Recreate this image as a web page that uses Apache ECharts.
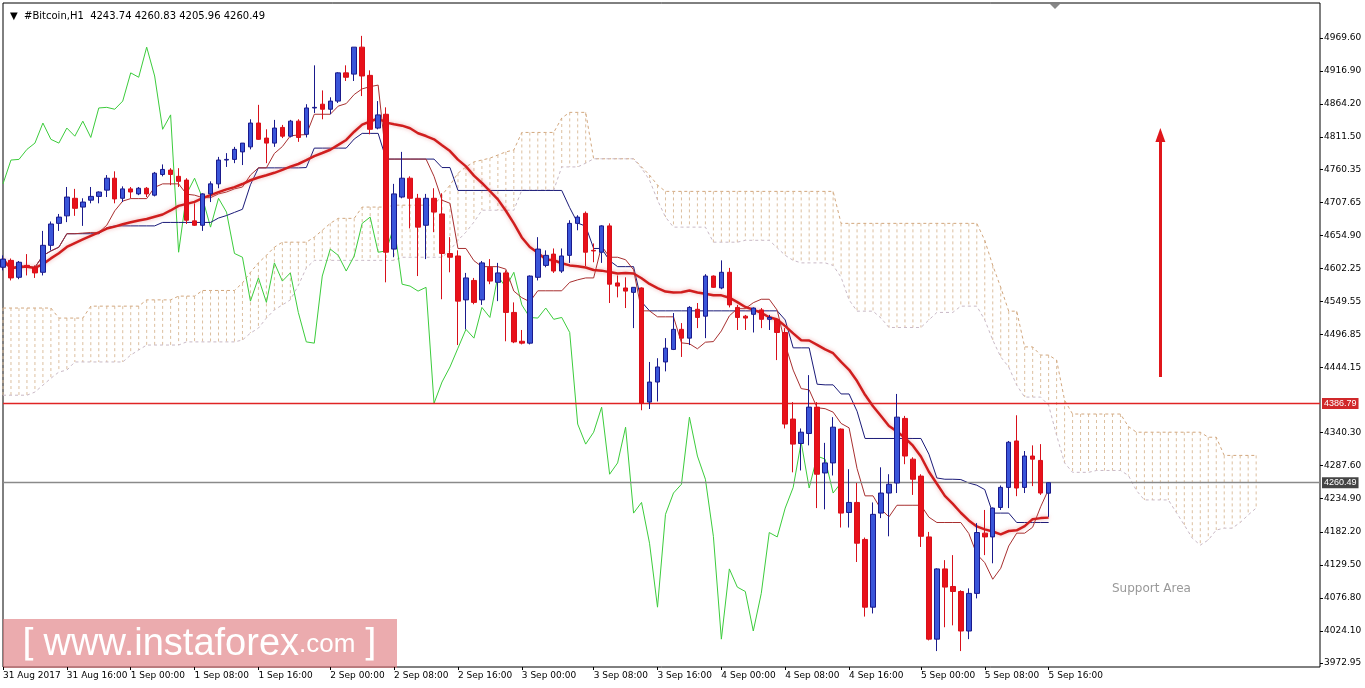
<!DOCTYPE html>
<html><head><meta charset="utf-8">
<script src="https://cdn.jsdelivr.net/npm/echarts@6/dist/echarts.min.js"></script>
<style>html,body{margin:0;padding:0;background:#fff}#c{width:1365px;height:688px}</style>
</head><body><div id="c"></div>
<script>
const opens=[4604,4615,4588,4607,4603,4596,4639,4674,4686,4714,4700,4711,4717,4727,4746,4714,4729,4721,4730,4719,4752,4759,4749,4743,4678,4671,4721,4737,4775,4776,4788,4796,4834,4810,4802,4827,4813,4837,4816,4858,4864,4856,4869,4914,4912,4955,4910,4826,4848,4633,4716,4746,4714,4671,4714,4689,4626,4622,4552,4583,4552,4604,4580,4595,4532,4486,4483,4588,4607,4625,4598,4623,4674,4690,4631,4628,4670,4579,4571,4564,4571,4389,4421,4453,4473,4505,4491,4537,4526,4590,4571,4596,4540,4526,4529,4536,4521,4520,4500,4362,4323,4339,4381,4276,4292,4346,4213,4229,4170,4062,4212,4244,4260,4363,4298,4271,4174,4011,4123,4095,4087,4024,4084,4180,4174,4221,4253,4327,4253,4303,4296,4243.74];
const closes=[4617,4587,4612,4604,4595,4639,4673,4684,4716,4698,4708,4717,4724,4746,4713,4729,4724,4730,4721,4754,4760,4752,4741,4679,4671,4721,4737,4775,4776,4792,4802,4834,4808,4802,4826,4813,4837,4811,4858,4859,4856,4869,4914,4907,4955,4909,4824,4847,4628,4721,4746,4714,4668,4714,4692,4626,4620,4550,4587,4548,4611,4582,4595,4532,4485,4483,4590,4633,4623,4598,4622,4674,4684,4628,4630,4670,4577,4574,4566,4572,4387,4421,4445,4475,4505,4491,4540,4524,4590,4572,4596,4544,4524,4523,4539,4521,4524,4500,4354,4322,4341,4381,4274,4292,4349,4212,4229,4164,4062,4210,4244,4258,4365,4303,4266,4175,4011,4123,4094,4087,4024,4084,4181,4174,4220,4253,4325,4252,4303,4298,4244,4260.49];
const lows=[4599,4583,4585,4591,4587,4591,4631,4662,4676,4686,4670,4706,4706,4716,4706,4708,4714,4719,4716,4717,4749,4735,4732,4673,4670,4662,4708,4730,4764,4770,4767,4792,4807,4770,4796,4810,4811,4804,4811,4850,4840,4848,4866,4901,4901,4877,4816,4824,4580,4620,4714,4666,4590,4617,4660,4553,4596,4480,4505,4545,4544,4577,4550,4486,4483,4481,4481,4583,4604,4595,4595,4611,4663,4606,4612,4611,4547,4556,4539,4507,4376,4378,4390,4438,4472,4461,4480,4507,4491,4571,4569,4540,4504,4504,4500,4507,4504,4456,4347,4277,4280,4320,4220,4218,4272,4189,4189,4134,4047,4052,4204,4175,4244,4290,4241,4158,4009,3992,4030,4033,3992,4011,4076,4145,4132,4217,4220,4239,4244,4255,4241,4205.96];
const highs=[4623,4618,4614,4625,4607,4662,4677,4689,4732,4729,4714,4732,4725,4751,4757,4733,4732,4732,4732,4756,4768,4762,4762,4746,4706,4722,4741,4780,4786,4796,4802,4840,4863,4824,4839,4831,4839,4840,4864,4926,4886,4875,4915,4926,4955,4973,4918,4869,4859,4737,4788,4749,4721,4721,4730,4722,4652,4631,4595,4587,4614,4617,4611,4599,4548,4504,4591,4652,4631,4634,4634,4679,4687,4693,4642,4671,4674,4591,4588,4572,4572,4453,4459,4491,4531,4515,4542,4547,4593,4591,4615,4603,4544,4528,4540,4539,4528,4521,4507,4389,4347,4432,4389,4324,4365,4347,4282,4260,4173,4229,4285,4274,4402,4367,4301,4274,4182,4124,4137,4145,4089,4092,4196,4217,4221,4256,4327,4368,4311,4320,4322,4260.83];
const cloudTop=[4539,4539,4539,4539,4539,4539,4539,4523,4523,4523,4523,4542,4542,4542,4542,4542,4542,4542,4552,4552,4552,4552,4558,4558,4558,4567,4567,4567,4567,4567,4579,4596,4611,4623,4636,4644,4644,4644,4644,4652,4663,4674,4682,4682,4682,4700,4700,4700,4700,4703,4703,4703,4703,4703,4703,4719,4735,4754,4764,4772,4775,4778,4783,4788,4791,4819,4819,4819,4819,4819,4842,4851,4851,4851,4777,4777,4777,4777,4777,4777,4764,4751,4735,4725,4725,4725,4725,4725,4725,4725,4725,4725,4725,4725,4725,4725,4725,4725,4725,4725,4725,4725,4725,4725,4725,4674,4674,4674,4674,4674,4674,4674,4674,4674,4674,4674,4674,4674,4674,4674,4674,4674,4674,4647,4607,4572,4534,4534,4477,4477,4464,4464,4456,4392,4370,4370,4370,4370,4370,4370,4370,4350,4341,4341,4341,4341,4341,4341,4341,4341,4341,4333,4333,4304,4304,4304,4304,4304];
const cloudBottom=[4400,4400,4400,4400,4405,4416,4427,4437,4440,4453,4453,4453,4453,4453,4453,4453,4464,4472,4480,4480,4480,4480,4480,4485,4485,4485,4485,4485,4485,4485,4488,4499,4507,4523,4536,4544,4552,4575,4603,4615,4615,4615,4615,4615,4615,4615,4615,4615,4615,4615,4620,4620,4620,4620,4620,4620,4631,4647,4660,4676,4695,4695,4695,4695,4695,4727,4727,4727,4727,4727,4764,4764,4764,4770,4777,4777,4777,4777,4777,4777,4762,4743,4711,4684,4668,4668,4668,4668,4668,4644,4644,4644,4644,4647,4647,4647,4647,4635,4623,4615,4611,4611,4611,4611,4607,4588,4552,4534,4534,4534,4523,4508,4508,4508,4508,4508,4520,4532,4532,4532,4542,4542,4542,4520,4488,4461,4445,4416,4397,4397,4397,4384,4336,4292,4277,4277,4277,4280,4280,4280,4280,4272,4248,4233,4233,4233,4233,4213,4193,4172,4161,4169,4185,4188,4188,4197,4209,4220];
const xTickIdx=[0,8,16,24,32,41,49,57,65,74,82,90,98,106,115,123,131];
const xTickLabels=['31 Aug 2017','31 Aug 16:00','1 Sep 00:00','1 Sep 08:00','1 Sep 16:00','2 Sep 00:00','2 Sep 08:00','2 Sep 16:00','3 Sep 00:00','3 Sep 08:00','3 Sep 16:00','4 Sep 00:00','4 Sep 08:00','4 Sep 16:00','5 Sep 00:00','5 Sep 08:00','5 Sep 16:00'];
const yTicks=[4969.60,4916.90,4864.20,4811.50,4760.35,4707.65,4654.90,4602.25,4549.55,4496.85,4444.15,4340.30,4287.60,4234.90,4182.20,4129.50,4076.80,4024.10,3972.95];
const resistance=4386.79, lastPrice=4260.49;
const arrowFrom=4429, arrowTo=4815, arrowIdx=145;

const N=166, n=closes.length;
const cats=[];for(let i=0;i<N;i++)cats.push(String(i));
const candles=opens.map((o,i)=>[o,closes[i],lows[i],highs[i]]);
function midRange(p){return closes.map((_,i)=>{let s=Math.max(0,i-p+1),hi=-1e9,lo=1e9;for(let k=s;k<=i;k++){hi=Math.max(hi,highs[k]);lo=Math.min(lo,lows[k]);}return +((hi+lo)/2).toFixed(2);});}
const tenkan=midRange(9), kijun=midRange(26);
const ma=closes.map((_,i)=>{let s=Math.max(0,i-20),t=0;for(let k=s;k<=i;k++)t+=closes[k];return +(t/(i-s+1)).toFixed(2);});
const chikou=closes.map((_,i)=>i+26<n?closes[i+26]:null);
const hatch=cloudTop.map((t,i)=>[i,t,cloudBottom[i]]);

function hLine(val,color,bg){return {type:'line',data:[],silent:true,z:7,color:color,itemStyle:{color:color},lineStyle:{color:color},markLine:{silent:true,symbol:'none',animation:false,
  lineStyle:{color:color,width:1.3,type:'solid',opacity:1},
  label:{show:true,position:'end',formatter:val.toFixed(2),backgroundColor:bg,color:'#fff',fontSize:9,padding:[1,2],distance:2},
  data:[{yAxis:val,lineStyle:{color:color}}]}};}

const chart=echarts.init(document.getElementById('c'));
chart.setOption({
  animation:false,
  backgroundColor:'#fff',
  title:{text:'▼  #Bitcoin,H1  4243.74 4260.83 4205.96 4260.49',left:5,top:6,textStyle:{fontSize:10,fontWeight:'normal',color:'#000',fontFamily:'DejaVu Sans'}},
  grid:{left:3,right:45,top:3,bottom:21,show:true,borderColor:'#000',borderWidth:1,backgroundColor:'#fff'},
  xAxis:{type:'category',data:cats,boundaryGap:false,
    axisLine:{show:false},
    axisTick:{show:true,length:3,interval:(i)=>xTickIdx.includes(i),lineStyle:{color:'#000'}},
    axisLabel:{interval:(i)=>xTickIdx.includes(i),formatter:(v)=>{const k=xTickIdx.indexOf(+v);return k>=0?xTickLabels[k]:'';},align:'left',fontSize:9,color:'#000',margin:4,fontFamily:'DejaVu Sans'},
    splitLine:{show:false}},
  yAxis:{type:'value',position:'right',min:3966.6,max:5025.4,scale:true,
    axisLine:{show:false},
    axisTick:{show:true,length:3,customValues:yTicks,lineStyle:{color:'#000'}},
    axisLabel:{customValues:yTicks,formatter:(v)=>v.toFixed(2),fontSize:9,color:'#000',margin:4,fontFamily:'DejaVu Sans'},
    splitLine:{show:false}},
  series:[
    {type:'custom',data:hatch,silent:true,z:1,renderItem:(p,api)=>{const a=api.coord([api.value(0),api.value(1)]),b=api.coord([api.value(0),api.value(2)]);return {type:'line',shape:{x1:a[0],y1:a[1],x2:a[0],y2:b[1]},style:{stroke:'#dcbf9f',lineWidth:1,lineDash:[3,3]}};}},
    {type:'line',data:cloudTop,symbol:'none',silent:true,z:2,lineStyle:{color:'#d2a77e',width:1,type:[3,3]}},
    {type:'line',data:cloudBottom,symbol:'none',silent:true,z:2,lineStyle:{color:'#c9b9c6',width:1,type:[3,3]}},
    {type:'line',data:chikou,symbol:'none',silent:true,z:3,lineStyle:{color:'#3ccc3c',width:1}},
    {type:'line',data:kijun,symbol:'none',silent:true,z:4,lineStyle:{color:'#1a1a78',width:1}},
    {type:'line',data:tenkan,symbol:'none',silent:true,z:4,lineStyle:{color:'#a83030',width:1}},
    {type:'line',data:ma,symbol:'none',silent:true,z:5,lineStyle:{color:'#d01e1e',width:2.5,shadowColor:'rgba(230,120,120,0.6)',shadowBlur:4}},
    {type:'candlestick',data:candles,barWidth:5,z:6,
      itemStyle:{color:'#3a55d9',color0:'#e8111a',borderColor:'#1a1a8c',borderColor0:'#d8101a',borderWidth:1}},
    hLine(resistance,'#e02424','#d0282a'),
    hLine(lastPrice,'#8a8a8a','#444'),
    {type:'line',data:[],markLine:{silent:true,symbol:['none','triangle'],symbolSize:[10,14],animation:false,label:{show:false},
      lineStyle:{color:'#e0161b',width:3,type:'solid'},
      data:[[{coord:[String(arrowIdx),arrowFrom]},{coord:[String(arrowIdx),arrowTo]}]]}}
  ],
  graphic:[
    {type:'polygon',shape:{points:[[1050,4],[1060,4],[1055,9]]},style:{fill:'#888'}},
    {type:'text',left:1112,top:583,style:{text:'Support Area',fill:'#999',fontSize:12,fontFamily:'DejaVu Sans'}},
    {type:'rect',shape:{x:3,y:619,width:394,height:49},style:{fill:'rgba(222,120,125,0.62)'}},
    {type:'text',left:22,top:626,style:{text:'{b|[}  {a|www.instaforex}{c|.com}  {b|]}',rich:{
      a:{fill:'#fff',fontSize:38,fontFamily:'Liberation Sans Narrow, Liberation Sans'},
      c:{fill:'#fff',fontSize:26,fontFamily:'Liberation Sans Narrow, Liberation Sans'},
      b:{fill:'#fff',fontSize:38,fontFamily:'DejaVu Sans ExtraLight, DejaVu Sans'}}}}
  ]
});
</script></body></html>
